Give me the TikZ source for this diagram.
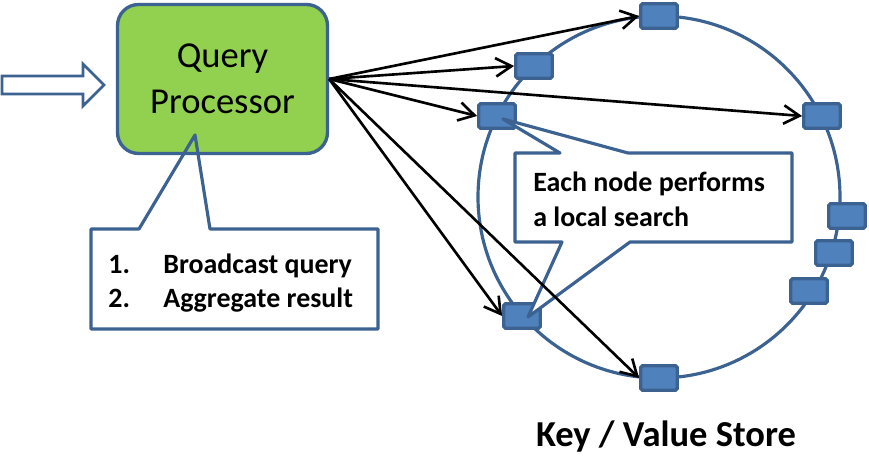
\documentclass[tikz,border=0pt]{standalone}
\usepackage{fontspec}
\setmainfont{Carlito}
\usepackage{tikz}
\usetikzlibrary{arrows.meta}
\definecolor{procgreen}{RGB}{146,208,80}
\definecolor{outlineblue}{RGB}{60,98,145}
\definecolor{keyblue}{RGB}{79,129,189}

\begin{document}
\begin{tikzpicture}[x=0.02cm, y=-0.02cm,
        processor/.style={draw=outlineblue, line width=1.9pt, fill=procgreen, rounded corners=0.42cm, minimum width=4.2cm, minimum height=2.98cm, align=center, font=\fontsize{20.8}{26}\selectfont},
        keynode/.style={draw=outlineblue, line width=1.9pt, fill=keyblue, rounded corners=1pt, minimum width=0.73cm, minimum height=0.49cm, inner sep=0pt},
        callout/.style={draw=outlineblue, line width=1.8pt, line join=round},
        note/.style={align=left, inner sep=0pt, font=\fontsize{15.9}{19.8}\selectfont\bfseries},
        arrow/.style={-{Straight Barb[length=9pt,width=10.5pt]}, line width=1.5pt}
    ]
        \useasboundingbox (0,0) rectangle (869,465);

        \draw[draw=outlineblue, line width=1.6pt, fill=white] (2,76) -- (83,76) -- (83,64) -- (104,85) -- (83,106) -- (83,94) -- (2,94) -- cycle;
        \node[processor] (qp) at (222.5,79) {Query\\Processor};

        \draw[callout] (91,229) -- (139,229) -- (195,135) -- (210,229) -- (378,229) -- (378,329) -- (91,329) -- cycle;
        \node[note, anchor=west] (steps) at (108,283) {\makebox[1.1cm][l]{1.}Broadcast query\\\makebox[1.1cm][l]{2.}Aggregate result};

        \draw[draw=outlineblue, line width=1.8pt] (659,197) circle (181);
        \node[keynode] (k1) at (659,16) {};
        \node[keynode] (k2) at (534,66) {};
        \node[keynode] (k3) at (497,116) {};
        \node[keynode] (k4) at (822,116) {};
        \node[keynode] (k5) at (847,216) {};
        \node[keynode] (k6) at (834,253) {};
        \node[keynode] (k7) at (809,291) {};
        \node[keynode] (k8) at (522,316) {};
        \node[keynode] (k9) at (659,378) {};

        \draw[callout, fill=white] (515,153) -- (560,153) -- (503,119) -- (628,153) -- (792,153) -- (792,242) -- (630,242) -- (528,317) -- (562,242) -- (515,242) -- cycle;
        \node[note, anchor=west] (search) at (533,199) {Each node performs\\a local search};

        \draw[arrow] (qp.east) -- (k1.west);
        \draw[arrow] (qp.east) -- (k2.west);
        \draw[arrow] (qp.east) -- (k3.west);
        \draw[arrow] (qp.east) -- (k4.west);
        \draw[arrow] (qp.east) -- (k8.west);
        \draw[arrow] (qp.east) -- (k9.west);

        \node[font=\fontsize{20.8}{24}\selectfont\bfseries] (store) at (666,437) {Key / Value Store};
    \end{tikzpicture}
\end{document}
